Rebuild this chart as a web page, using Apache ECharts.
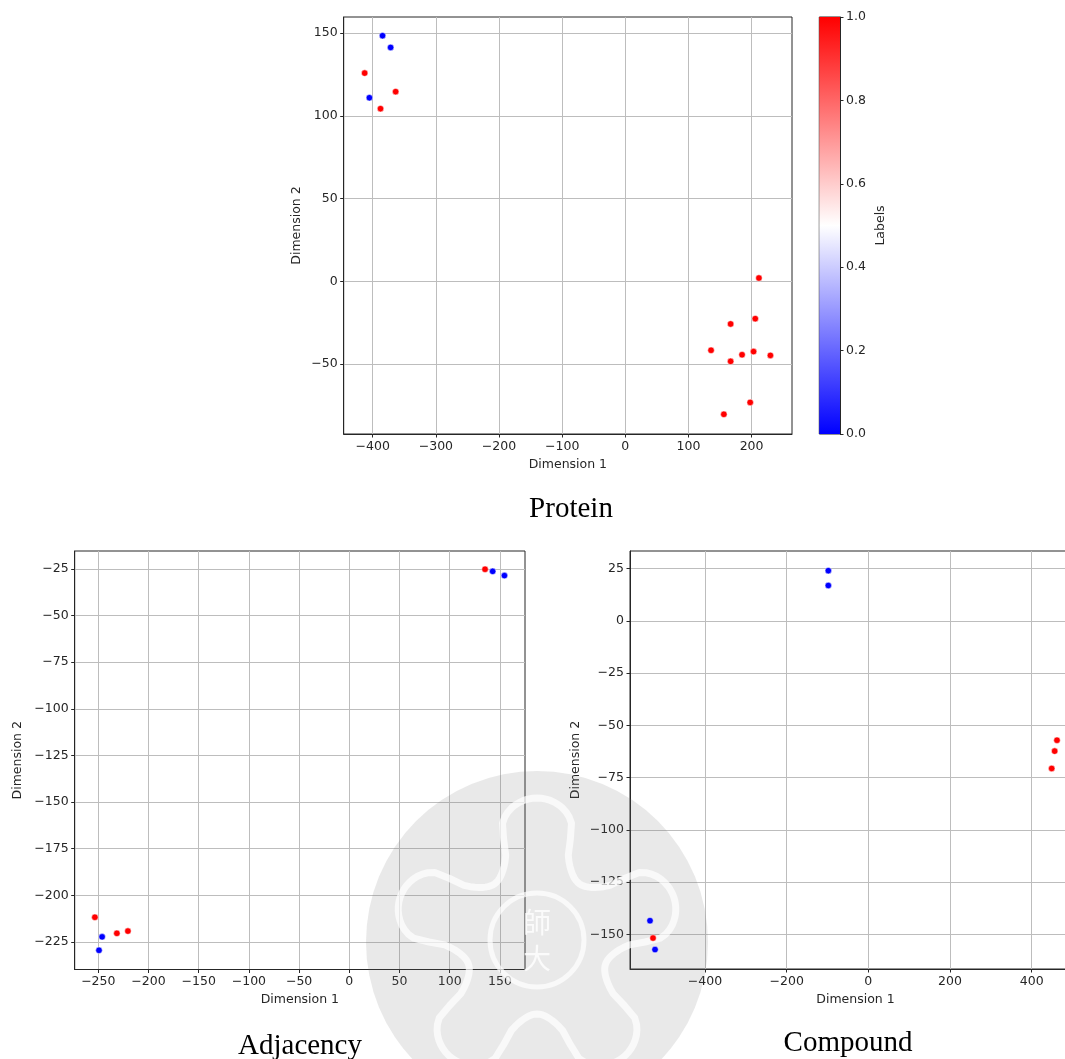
<!DOCTYPE html>
<html>
<head>
<meta charset="utf-8">
<style>
  html, body { margin: 0; padding: 0; background: #ffffff; }
  #chart { width: 1065px; height: 1059px; }
</style>
<script src="https://cdn.jsdelivr.net/npm/echarts@6/dist/echarts.min.js"></script>
</head>
<body>
<div id="chart"></div>
<script>
// ---------- data ----------
const proteinX = [-384.5, -371.7, -412.8, -363.7, -405.3, -387.7, 211.6, 205.8, 166.8, 135.8, 184.9, 203.1, 229.8, 166.8, 197.8, 156.1];
const proteinY = [148.4, 141.3, 125.8, 114.6, 110.9, 104.3, 1.96, -22.6, -25.8, -41.7, -44.4, -42.5, -44.8, -48.4, -73.2, -80.4];
const proteinLabel = [0, 0, 1, 1, 0, 1, 1, 1, 1, 1, 1, 1, 1, 1, 1, 1];

const adjacencyX = [135.2, 142.8, 154.5, -253.4, -231.5, -220.5, -246.2, -249.3];
const adjacencyY = [-25.2, -26.3, -28.6, -211.8, -220.4, -219.2, -222.3, -229.5];
const adjacencyLabel = [1, 0, 0, 1, 1, 1, 0, 0];

const compoundX = [-98, -98, 462, 456.3, 449, -534.7, -527.3, -522.4];
const compoundY = [24.0, 16.9, -57.1, -62.3, -70.6, -143.4, -151.7, -157.2];
const compoundLabel = [0, 0, 1, 1, 1, 0, 1, 0];

const proteinXTicks = [-400, -300, -200, -100, 0, 100, 200];
const proteinYTicks = [-50, 0, 50, 100, 150];
const adjacencyXTicks = [-250, -200, -150, -100, -50, 0, 50, 100, 150];
const adjacencyYTicks = [-225, -200, -175, -150, -125, -100, -75, -50, -25];
const compoundXTicks = [-400, -200, 0, 200, 400];
const compoundYTicks = [-150, -125, -100, -75, -50, -25, 0, 25];
const colorbarTicks = [0, 0.2, 0.4, 0.6, 0.8, 1.0];

const titles = ['Protein', 'Adjacency', 'Compound'];
// ---------- chart ----------
const FONT = 'DejaVu Sans';
const INK = '#262626';

function pts(xs, ys, ls) { return xs.map((x, i) => [x, ys[i], ls[i]]); }
function fmt(v) { return String(v).replace('-', '\u2212'); }

function valAxis(gridIndex, min, max, step, ticks, name, nameGap, isY) {
  return {
    gridIndex: gridIndex,
    type: 'value',
    min: min, max: max,
    minInterval: step, maxInterval: step,
    name: name,
    nameLocation: 'middle',
    nameGap: nameGap,
    nameRotate: isY ? 90 : 0,
    nameTextStyle: { fontFamily: FONT, fontSize: 12.5, color: INK },
    axisLine: { show: true, onZero: false, lineStyle: { color: INK, width: 1 } },
    axisTick: { show: true, inside: false, length: 3.5, customValues: ticks, lineStyle: { color: INK, width: 1 } },
    axisLabel: { customValues: ticks, formatter: fmt, fontFamily: FONT, fontSize: 12.5, color: INK, margin: 6 },
    splitLine: { show: true, lineStyle: { color: '#bdbdbd', width: 1 } }
  };
}

const grids = [
  { left: 343.7, top: 17, width: 448.3, height: 417 },
  { left: 74.7, top: 551, width: 450.3, height: 418.5 },
  { left: 630, top: 551, width: 451, height: 418 },
  { left: 819.3, top: 17, width: 20.7, height: 417 }
].map(g => Object.assign({ show: true, borderColor: INK, borderWidth: 1, backgroundColor: 'transparent', outerBoundsMode: 'none', containLabel: false }, g));

const xAxes = [
  valAxis(0, -446, 264, 100, proteinXTicks, 'Dimension 1', 24, false),
  valAxis(1, -273.5, 175, 50, adjacencyXTicks, 'Dimension 1', 24, false),
  valAxis(2, -583.7, 520.8, 200, compoundXTicks, 'Dimension 1', 24, false),
  { gridIndex: 3, type: 'category', data: [''], show: false, boundaryGap: true }
];
const yAxes = [
  valAxis(0, -92.3, 159.7, 50, proteinYTicks, 'Dimension 2', 40, true),
  valAxis(1, -239.8, -15.4, 25, adjacencyYTicks, 'Dimension 2', 50, true),
  valAxis(2, -166.5, 33.4, 25, compoundYTicks, 'Dimension 2', 48, true),
  {
    gridIndex: 3, type: 'value', min: 0, max: 1, interval: 0.2, position: 'right',
    name: 'Labels', nameLocation: 'middle', nameGap: 34, nameRotate: 90,
    nameTextStyle: { fontFamily: FONT, fontSize: 12.5, color: INK },
    axisLine: { show: true, lineStyle: { color: INK, width: 1 } },
    axisTick: { show: true, inside: false, length: 3.5, lineStyle: { color: INK } },
    axisLabel: { formatter: v => Number(v).toFixed(1), fontFamily: FONT, fontSize: 12.5, color: INK, margin: 6 },
    splitLine: { show: false }
  }
];

function scatter(i, data) {
  return {
    type: 'scatter', xAxisIndex: i, yAxisIndex: i, data: data,
    symbolSize: 6.5, silent: true, z: 5,
    itemStyle: { borderColor: '#ffffff', borderWidth: 0.5, opacity: 1 }
  };
}

const series = [
  scatter(0, pts(proteinX, proteinY, proteinLabel)),
  scatter(1, pts(adjacencyX, adjacencyY, adjacencyLabel)),
  scatter(2, pts(compoundX, compoundY, compoundLabel)),
  {
    type: 'bar', xAxisIndex: 3, yAxisIndex: 3, data: [1], barWidth: '100%', silent: true,
    itemStyle: {
      color: new echarts.graphic.LinearGradient(0, 0, 0, 1, [
        { offset: 0, color: '#ff0000' },
        { offset: 0.5, color: '#ffffff' },
        { offset: 1, color: '#0000ff' }
      ])
    }
  }
];

// decorative watermark outline (five-lobed seal)
function sealPoints(cx, cy) {
  const n = 200, out = [];
  for (let k = 0; k < n; k++) {
    const t = (k / n) * Math.PI * 2;
    const c = Math.cos(5 * (t + Math.PI / 2));
    const r = 108 + 36 * Math.sign(c) * Math.pow(Math.abs(c), 0.45);
    out.push([cx + r * Math.cos(t), cy + r * Math.sin(t)]);
  }
  return out;
}

const titleStyle = { fontFamily: 'Liberation Serif', fontSize: 29, fill: '#000000', align: 'center', verticalAlign: 'middle' };
const graphics = [
  { type: 'text', x: 571, y: 509, z: 50, style: Object.assign({ text: titles[0] }, titleStyle) },
  { type: 'text', x: 300, y: 1046, z: 50, style: Object.assign({ text: titles[1] }, titleStyle) },
  { type: 'text', x: 848, y: 1043, z: 50, style: Object.assign({ text: titles[2] }, titleStyle) },
  // faint watermark seal (drawn under the points)
  { type: 'circle', shape: { cx: 537, cy: 942, r: 171 }, z: 3, silent: true,
    style: { fill: 'rgba(120,120,120,0.16)' } },
  { type: 'polygon', shape: { points: sealPoints(537, 942) }, z: 4, silent: true,
    style: { fill: 'none', stroke: 'rgba(255,255,255,0.7)', lineWidth: 7, lineJoin: 'round' } },
  { type: 'circle', shape: { cx: 537, cy: 940, r: 47 }, z: 4, silent: true,
    style: { fill: 'none', stroke: 'rgba(255,255,255,0.7)', lineWidth: 5 } },
  { type: 'text', x: 537, y: 922, z: 4, silent: true,
    style: { text: '師', fontFamily: 'Noto Sans CJK TC', fontSize: 28, fill: 'rgba(255,255,255,0.8)', align: 'center', verticalAlign: 'middle' } },
  { type: 'text', x: 537, y: 958, z: 4, silent: true,
    style: { text: '大', fontFamily: 'Noto Sans CJK TC', fontSize: 28, fill: 'rgba(255,255,255,0.8)', align: 'center', verticalAlign: 'middle' } }
];

const chart = echarts.init(document.getElementById('chart'), null, { renderer: 'canvas' });
chart.setOption({
  animation: false,
  backgroundColor: '#ffffff',
  grid: grids,
  xAxis: xAxes,
  yAxis: yAxes,
  visualMap: {
    type: 'continuous', show: false, min: 0, max: 1, dimension: 2, seriesIndex: [0, 1, 2],
    inRange: { color: ['#0000ff', '#ffffff', '#ff0000'] }
  },
  series: series,
  graphic: graphics
});
</script>
</body>
</html>
